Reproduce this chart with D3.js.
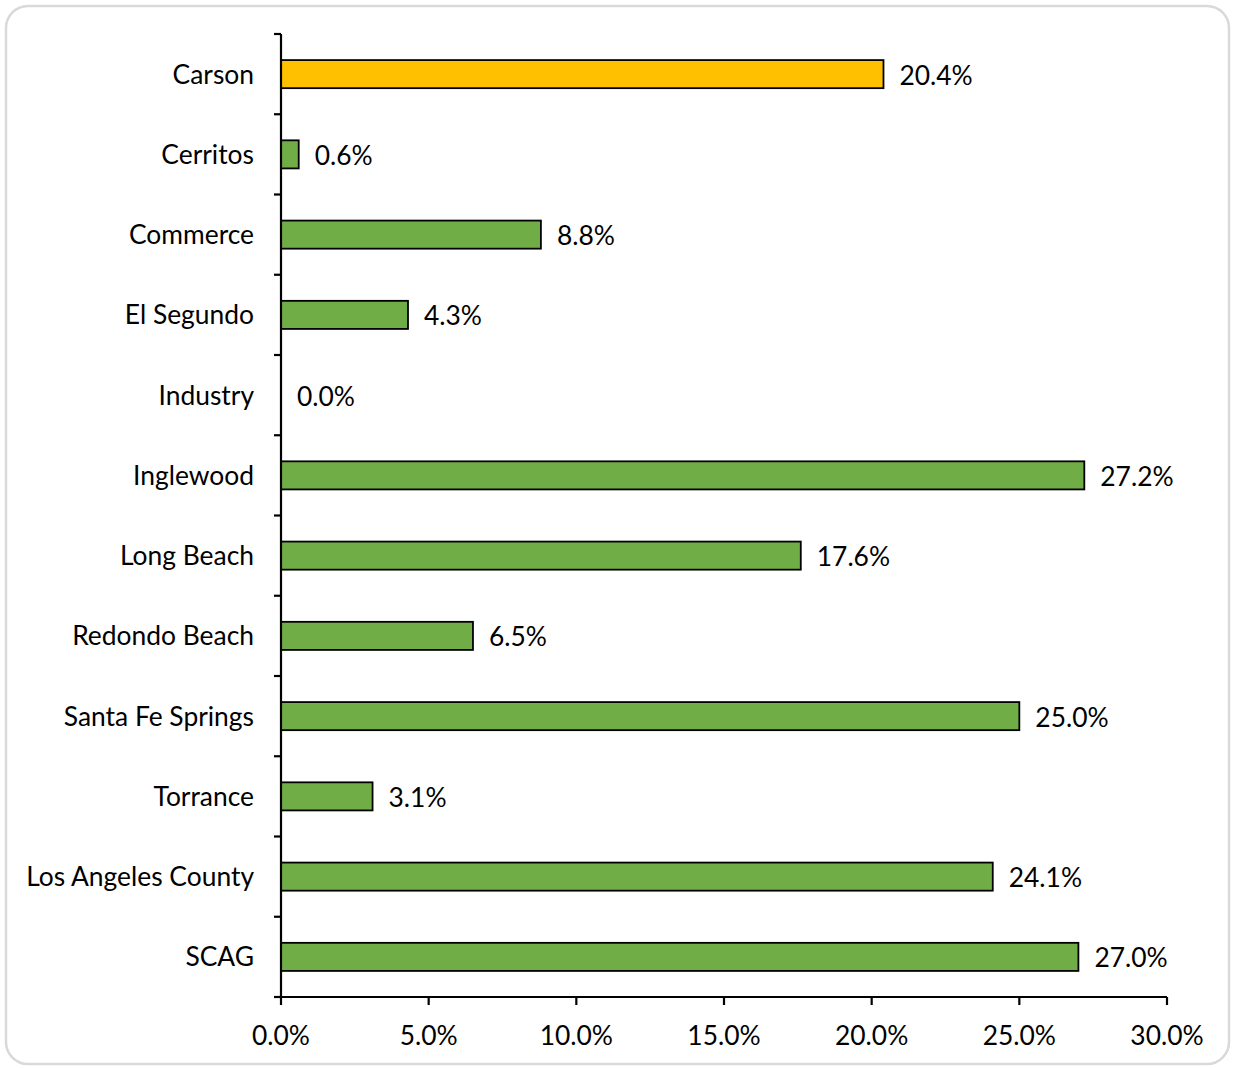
<!DOCTYPE html>
<html>
<head>
<meta charset="utf-8">
<script src="https://cdn.jsdelivr.net/npm/d3@7"></script>
<style>
  html, body { margin: 0; padding: 0; background: #fff; }
  svg { display: block; }
  text { font-family: Lato, "Open Sans", sans-serif; fill: #000; }
</style>
</head>
<body>
<svg id="chart" width="1233" height="1068"></svg>
<script>
// Places compared in the chart, top to bottom
const places = ["Carson", "Cerritos", "Commerce", "El Segundo", "Industry", "Inglewood",
  "Long Beach", "Redondo Beach", "Santa Fe Springs", "Torrance", "Los Angeles County", "SCAG"];
// Percentage for each place
const values = [20.4, 0.6, 8.8, 4.3, 0.0, 27.2, 17.6, 6.5, 25.0, 3.1, 24.1, 27.0];
// Highlighted place
const highlight = ["Carson"];
// X axis ticks (percent)
const xTicks = [0, 5, 10, 15, 20, 25, 30];

const svg = d3.select("#chart");
const fontSize = 26.4;

// Rounded outer frame
svg.append("rect")
  .attr("x", 6).attr("y", 6).attr("width", 1223).attr("height", 1058)
  .attr("rx", 22).attr("ry", 22)
  .attr("fill", "#fff").attr("stroke", "#d9d9d9").attr("stroke-width", 2.5);

const plotLeft = 281, plotRight = 1167, plotTop = 34, plotBottom = 997;

const x = d3.scaleLinear().domain([0, 30]).range([plotLeft, plotRight]);
const y = d3.scaleBand().domain(places).range([plotTop, plotBottom]).paddingInner(0.65).paddingOuter(0.325);
const band = d3.scaleBand().domain(places).range([plotTop, plotBottom]);

const data = places.map((p, i) => ({ place: p, value: values[i] }));

// Bars
svg.append("g").selectAll("rect").data(data.filter(d => d.value > 0)).join("rect")
  .attr("x", x(0))
  .attr("y", d => y(d.place))
  .attr("width", d => x(d.value) - x(0))
  .attr("height", y.bandwidth())
  .attr("fill", d => highlight.includes(d.place) ? "#FFC000" : "#70AD47")
  .attr("stroke", "#000").attr("stroke-width", 1.8);

// Value labels
svg.append("g").selectAll("text").data(data).join("text")
  .attr("x", d => x(d.value) + 16)
  .attr("y", d => y(d.place) + y.bandwidth() / 2 + 1)
  .attr("dy", "0.36em")
  .attr("font-size", fontSize)
  .text(d => d.value.toFixed(1) + "%");

// Category axis: line, ticks at band boundaries, labels
const yAxis = svg.append("g");
yAxis.append("line").attr("x1", plotLeft).attr("x2", plotLeft).attr("y1", plotTop).attr("y2", plotBottom)
  .attr("stroke", "#000").attr("stroke-width", 2.2);
const bounds = places.map(p => band(p)).concat([plotBottom]);
yAxis.selectAll("line.tick").data(bounds).join("line").attr("class", "tick")
  .attr("x1", plotLeft - 7).attr("x2", plotLeft).attr("y1", d => d).attr("y2", d => d)
  .attr("stroke", "#000").attr("stroke-width", 2.2);
yAxis.selectAll("text").data(places).join("text")
  .attr("x", 254)
  .attr("y", d => band(d) + band.bandwidth() / 2)
  .attr("dy", "0.36em")
  .attr("text-anchor", "end")
  .attr("font-size", fontSize)
  .text(d => d);

// Value axis
const xAxis = svg.append("g");
xAxis.append("line").attr("x1", plotLeft - 7).attr("x2", plotRight).attr("y1", plotBottom).attr("y2", plotBottom)
  .attr("stroke", "#000").attr("stroke-width", 2.2);
xAxis.selectAll("line.tick").data(xTicks).join("line").attr("class", "tick")
  .attr("x1", d => x(d)).attr("x2", d => x(d)).attr("y1", plotBottom).attr("y2", plotBottom + 8)
  .attr("stroke", "#000").attr("stroke-width", 2.2);
xAxis.selectAll("text").data(xTicks).join("text")
  .attr("x", d => x(d))
  .attr("y", 1035)
  .attr("dy", "0.36em")
  .attr("text-anchor", "middle")
  .attr("font-size", fontSize)
  .text(d => d.toFixed(1) + "%");
</script>
</body>
</html>
